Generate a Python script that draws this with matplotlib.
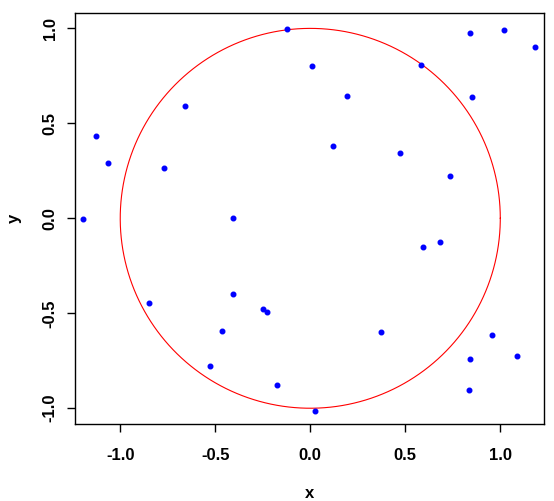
import matplotlib; matplotlib.use("Agg")
import matplotlib.pyplot as plt
import numpy as np

# points
x = [-1.195, -1.126, -1.063, -0.768, -0.658, -0.121, 0.011, 0.195, 0.121, 0.474,
     0.584, 0.842, 1.021, 1.184, 0.853, 0.737, -0.407, 0.595, 0.684, -0.851,
     -0.405, -0.247, -0.226, -0.463, 0.371, 0.958, -0.526, -0.175, 0.842, 1.089,
     0.837, 0.026]
y = [-0.005, 0.432, 0.289, 0.263, 0.589, 0.995, 0.800, 0.642, 0.379, 0.342,
     0.805, 0.974, 0.989, 0.900, 0.637, 0.221, 0.000, -0.153, -0.126, -0.447,
     -0.400, -0.479, -0.495, -0.595, -0.600, -0.616, -0.779, -0.879, -0.742, -0.726,
     -0.905, -1.016]
ticks = [-1.0, -0.5, 0.0, 0.5, 1.0]
radius = 1.0

plt.rcParams["font.family"] = ["Liberation Sans", "DejaVu Sans"]
fig = plt.figure(figsize=(5.54, 5.01), dpi=100)
ax = fig.add_axes([75 / 554, 1 - 424 / 501, 469 / 554, 411 / 501])

t = np.linspace(0, 2 * np.pi, 400)
ax.plot(radius * np.cos(t), radius * np.sin(t), color="red", lw=0.8)
ax.plot(x, y, "o", color="blue", ms=3.3, mec="blue")

ax.set_xlim(-1.238, 1.230)
ax.set_ylim(-1.083, 1.081)
ax.set_xticks(ticks); ax.set_yticks(ticks)
ax.set_xticklabels(["%.1f" % v for v in ticks], fontsize=12, fontweight="bold")
ax.set_yticklabels(["%.1f" % v for v in ticks], fontsize=12, fontweight="bold",
                   rotation=90, va="center")
ax.tick_params(direction="out", length=6, width=1, color="black")
ax.tick_params(axis="x", pad=11)
ax.tick_params(axis="y", pad=6.5)
for s in ax.spines.values(): s.set_linewidth(1)
ax.set_xlabel("x", fontsize=12, fontweight="bold", labelpad=17)
ax.set_ylabel("y", fontsize=12, fontweight="bold", labelpad=15)

fig.savefig("out.png", dpi=100)
